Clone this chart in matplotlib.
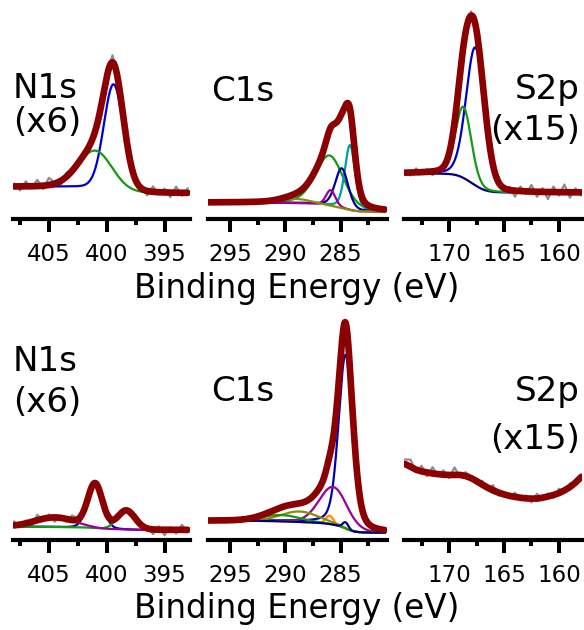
import numpy as np
import matplotlib
matplotlib.use("Agg")
import matplotlib.pyplot as plt
from matplotlib.ticker import MultipleLocator

plt.rcParams['font.family'] = ['DejaVu Sans']

W, H = 584, 630

# ---------------- data (binding energy in eV, intensity in arbitrary units) ----------------
# ---- top row ----
n1s_top_range = (408.0, 393.0)
n1s_top_centers = [399.4, 401.0]
n1s_top_heights = [51.0, 18.0]
n1s_top_fwhm = [2.0, 3.5]
n1s_top_eta = [0.1, 0.1]
n1s_top_colors = ['#0000cc', '#139a13']
n1s_top_bg = [15.4, 12.3]
n1s_top_resid = [1.3, -1.9, 2.4, -1.0, 3.0, -1.6, 3.4, 0.6, -2.4, 1.9, 0.8, -1.3, 1.0, -0.8, 1.4, -0.6,
                 1.1, 3.4, 1.6, -1.4, 0.6, -1.0, 1.3, -2.1, 2.6, -1.1, 1.8, -2.2, 2.9, -1.4, 2.1]

c1s_top_range = (297.0, 281.0)
c1s_top_centers = [286.0, 284.15, 284.9, 285.9, 289.0]
c1s_top_heights = [24.0, 31.0, 19.0, 7.5, 2.0]
c1s_top_fwhm = [3.0, 1.1, 1.4, 1.0, 3.0]
c1s_top_eta = [0.3, 0.3, 0.3, 0.2, 0.0]
c1s_top_colors = ['#139a13', '#009f9f', '#000099', '#990099', '#8c8c00']
c1s_top_bg = [7.8, 3.5]

s2p_top_range = (174.0, 158.0)
s2p_top_centers = [167.6, 168.7]
s2p_top_heights = [66.0, 34.0]
s2p_top_fwhm = [2.0, 1.7]
s2p_top_eta = [0.15, 0.15]
s2p_top_colors = ['#0000cc', '#139a13']
s2p_top_bg = [21.8, 12.6]
s2p_top_resid = [0.8, -1.4, 1.9, -0.6, 1.3, -1.8, 0.5, 1.0, -0.8, 0.6, -0.5, 0.8, 2.0, 1.3, -1.0, 1.4,
                 -1.1, 2.6, -2.1, 1.4, -2.9, 2.2, -1.3, 3.2, -2.4, 1.8, -3.4, 2.7, -1.6, 3.7, -2.6, 1.9, -1.4]

# ---- bottom row ----
n1s_bot_range = (408.0, 393.0)
n1s_bot_centers = [401.0, 398.3, 404.5]
n1s_bot_heights = [21.0, 9.0, 4.5]
n1s_bot_fwhm = [1.5, 1.8, 4.0]
n1s_bot_eta = [0.1, 0.1, 0.0]
n1s_bot_colors = ['#0000aa', '#139a13', '#990099']
n1s_bot_bg = [6.4, 4.8]
n1s_bot_resid = [1.9, -1.3, 1.4, -1.8, 2.6, -0.8, 1.6, -2.1, 1.1, -1.4, 2.2, 0.5, -1.0, 2.4, 0.6, -0.8,
                 1.8, 1.0, -1.3, 1.1, -1.6, 2.1, -1.1, 0.8, -2.2, 1.6, -2.6, 1.3, -1.8, 2.4, -1.0]

c1s_bot_range = (297.0, 281.0)
c1s_bot_centers = [284.55, 285.67, 286.0, 288.7, 290.4, 284.55]
c1s_bot_heights = [83.0, 18.0, 4.0, 5.0, 3.0, 3.0]
c1s_bot_fwhm = [1.5, 3.0, 0.8, 4.0, 4.0, 0.6]
c1s_bot_eta = [0.3, 0.1, 0.0, 0.0, 0.0, 0.0]
c1s_bot_colors = ['#0000b4', '#990099', '#ff8c00', '#8c8c00', '#139a13', '#000080']
c1s_bot_bg = [9.2, 3.5]

s2p_bot_be = [174.0, 173.5, 173.0, 172.5, 172.0, 171.5, 171.0, 170.5, 170.0, 169.5, 169.0, 168.5,
              168.0, 167.5, 167.0, 166.5, 166.0, 165.5, 165.0, 164.5, 164.0, 163.5, 163.0, 162.5,
              162.0, 161.5, 161.0, 160.5, 160.0, 159.5, 159.0, 158.5, 158.0]
s2p_bot_env = [36.3, 35.0, 33.6, 32.8, 32.3, 31.8, 31.5, 31.2, 31.1, 31.1, 31.1, 30.6,
               29.6, 28.2, 26.6, 25.1, 23.8, 22.7, 21.8, 21.1, 20.6, 20.2, 19.9, 19.8,
               19.8, 20.2, 20.8, 21.5, 22.4, 23.7, 25.3, 27.4, 30.0]
s2p_bot_resid = [2.2, 3.4, -1.2, 2.7, -1.8, 3.0, -0.9, 2.1, -1.5, 3.6, -1.0, 1.8, 0.8, -1.4, 1.7, -0.8,
                 2.4, -1.5, 1.2, -0.9, 2.0, -1.2, 1.4, -1.8, 2.3, -0.6, 1.5, -1.4, 2.1, -0.9, 1.7, -0.8, 1.4]
s2p_bot_green_be = [170.0, 169.5, 169.0, 168.5, 168.0, 167.5, 167.0, 166.5, 166.0, 165.5, 165.0, 164.5, 164.0, 163.5, 163.0]
s2p_bot_green = [31.0, 30.9, 30.7, 29.9, 28.6, 27.0, 25.3, 23.8, 22.5, 21.6, 20.9, 20.4, 20.0, 19.8, 19.7]

panel_xlims = [(408.1, 392.8), (297.0, 280.8), (174.1, 157.9)]
panel_names = ["N1s", "C1s", "S2p"]
panel_factors = ["(x6)", None, "(x15)"]
xlabel_text = "Binding Energy (eV)"

ENV_COLOR = '#8b0000'
RAW_COLOR = '#8c8c8c'


def pvoigt(x, c, h, w, eta):
    u = (x - c) / w
    return h * ((1 - eta) * np.exp(-4 * np.log(2) * u ** 2) + eta / (1 + 4 * u ** 2))


def step_bg(total_peaks, hi, lo):
    cum = np.cumsum(total_peaks[::-1])[::-1]
    return lo + (hi - lo) * cum / cum[0]


def draw_fit(ax, rng, centers, heights, fwhm, eta, colors, bg_ends, resid=None, bg_color=None):
    x = np.linspace(rng[0], rng[1], 1200)
    comps = [pvoigt(x, c, h, w, e) for c, h, w, e in zip(centers, heights, fwhm, eta)]
    total = np.sum(comps, axis=0)
    bg = step_bg(total, bg_ends[0], bg_ends[1])
    env = bg + total
    if resid is not None:
        xr = rng[0] - 0.5 * np.arange(len(resid))
        cr = [pvoigt(xr, c, h, w, e) for c, h, w, e in zip(centers, heights, fwhm, eta)]
        tr = np.sum(cr, axis=0)
        bgr = np.interp(xr[::-1], x[::-1], bg[::-1])[::-1]
        ax.plot(xr, bgr + tr + np.array(resid), color=RAW_COLOR, lw=1.6, zorder=1)
    if bg_color is not None:
        ax.plot(x, bg, color=bg_color, lw=1.6, zorder=2)
    for comp, col in zip(comps, colors):
        ax.plot(x, bg + comp, color=col, lw=1.6, zorder=3)
    ax.plot(x, env, color=ENV_COLOR, lw=4.8, zorder=5, solid_capstyle='round')


fig = plt.figure(figsize=(W / 100, H / 100), dpi=100)

col_px = [(13, 190), (208, 387), (404, 582)]
rows = [(219, 10, 100.0), (540, 315, 225 * 0.478)]  # bottom px, top px, ymax

axes = []
for r, (yb, yt, ymax) in enumerate(rows):
    row_axes = []
    for c, (xl, xr) in enumerate(col_px):
        ax = fig.add_axes([xl / W, 1 - yb / H, (xr - xl) / W, (yb - yt) / H])
        ax.set_xlim(*panel_xlims[c])
        ax.set_ylim(0, ymax)
        for s in ['left', 'right', 'top']:
            ax.spines[s].set_visible(False)
        ax.spines['bottom'].set_linewidth(3.0)
        ax.set_yticks([])
        ax.xaxis.set_major_locator(MultipleLocator(5))
        ax.xaxis.set_minor_locator(MultipleLocator(2.5))
        ax.tick_params(axis='x', which='major', direction='out', length=9.5, width=2.9,
                       labelsize=16.5, pad=7.5)
        ax.tick_params(axis='x', which='minor', direction='out', length=4.5, width=2.9)
        ax.patch.set_alpha(0)
        row_axes.append(ax)
    axes.append(row_axes)

# top row
draw_fit(axes[0][0], n1s_top_range, n1s_top_centers, n1s_top_heights, n1s_top_fwhm, n1s_top_eta,
         n1s_top_colors, n1s_top_bg, resid=n1s_top_resid)
draw_fit(axes[0][1], c1s_top_range, c1s_top_centers, c1s_top_heights, c1s_top_fwhm, c1s_top_eta,
         c1s_top_colors, c1s_top_bg)
draw_fit(axes[0][2], s2p_top_range, s2p_top_centers, s2p_top_heights, s2p_top_fwhm, s2p_top_eta,
         s2p_top_colors, s2p_top_bg, resid=s2p_top_resid, bg_color='#000080')

# bottom row
draw_fit(axes[1][0], n1s_bot_range, n1s_bot_centers, n1s_bot_heights, n1s_bot_fwhm, n1s_bot_eta,
         n1s_bot_colors, n1s_bot_bg, resid=n1s_bot_resid)
draw_fit(axes[1][1], c1s_bot_range, c1s_bot_centers, c1s_bot_heights, c1s_bot_fwhm, c1s_bot_eta,
         c1s_bot_colors, c1s_bot_bg)
ax = axes[1][2]
be = np.array(s2p_bot_be)
env = np.array(s2p_bot_env)
ax.plot(be, env + np.array(s2p_bot_resid), color=RAW_COLOR, lw=1.6, zorder=1)
ax.plot(s2p_bot_green_be, s2p_bot_green, color='#139a13', lw=1.6, zorder=3)
ax.plot(be, env - 0.4, color='#000080', lw=1.6, zorder=2)
ax.plot(be, env, color=ENV_COLOR, lw=4.8, zorder=5, solid_capstyle='round')

# panel labels (pixel positions of baselines)
label_fs = 24.5
label_pos = [
    [(13, 97.5, 132.5, 'left'), (211, 101, None, 'left'), (580, 98.5, 139.5, 'right')],
    [(13, 371, 412, 'left'), (211, 401, None, 'left'), (580, 400.5, 449, 'right')],
]
for r in range(2):
    for c in range(3):
        x, y1, y2, ha = label_pos[r][c]
        fig.text(x / W, 1 - y1 / H, panel_names[c], fontsize=label_fs, ha=ha, va='baseline')
        if panel_factors[c] is not None:
            fig.text(x / W, 1 - y2 / H, panel_factors[c], fontsize=label_fs, ha=ha, va='baseline')

# x labels
for yb in (298.3, 618.3):
    fig.text(296.5 / W, 1 - yb / H, xlabel_text, fontsize=23.5, ha='center', va='baseline')

fig.savefig('out.png', dpi=100)
